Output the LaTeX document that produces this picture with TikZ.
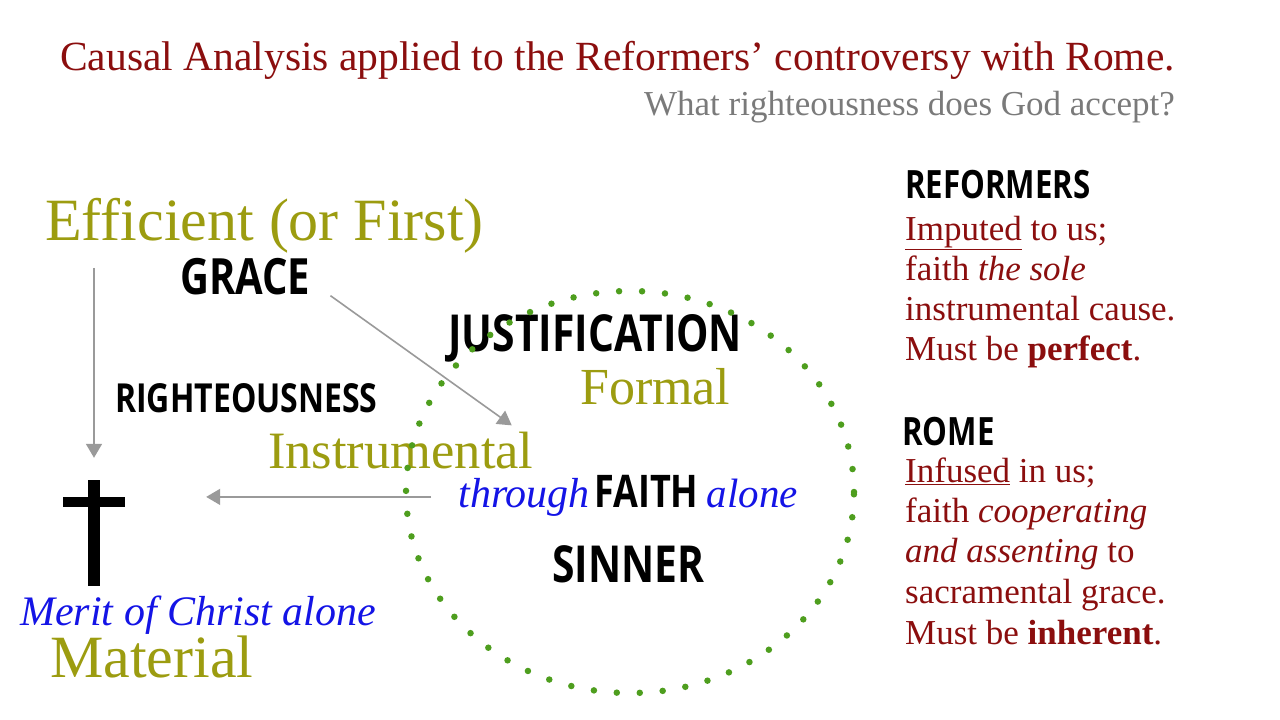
\documentclass[tikz,border=0pt]{standalone}
\usepackage{fontspec}
\setmainfont{Liberation Serif}
\newfontfamily\capsans[FakeStretch=0.8]{Open Sans}
\usetikzlibrary{arrows.meta,calc,positioning}
\definecolor{titlered}{HTML}{8B0E0E}
\definecolor{subgray}{HTML}{7A7A7A}
\definecolor{causeolive}{HTML}{9C9C10}
\definecolor{faithblue}{HTML}{1414E6}
\definecolor{arrowgray}{HTML}{9A9A9A}
\definecolor{dotgreen}{HTML}{4E9E1E}
\newcommand{\fsz}[1]{\fontsize{#1}{#1}\selectfont}

\begin{document}
\begin{tikzpicture}[x=1pt,y=-1pt,
    every node/.style={inner sep=0pt,anchor=base west},
    cause/.style={text=causeolive},
    heavy/.style={font=\capsans\bfseries\fsz{#1}},
    sola/.style={text=faithblue,font=\itshape\fsz{#1}},
    side/.style={text=titlered,font=\fsz{35}},
    garrow/.style={draw=arrowgray,line width=1.6pt,-{Triangle[width=16pt,length=14pt]}}]
  \useasboundingbox[fill=white] (0,0) rectangle (1280,720);

  % heading
  \node[anchor=base east,text=titlered,font=\fsz{41.5}] (title) at (1175,70)
    {Causal Analysis applied to the Reformers’ controversy with Rome.};
  \node[anchor=base east,text=subgray,font=\fsz{35}] (subtitle) at (1175,115)
    {What righteousness does God accept?};

  % the four causes
  \node[cause,font=\fsz{60}] (eff) at (45,240) {Efficient (or First)};
  \node[heavy=50] (grace) at (180,294) {GRACE};
  \node[heavy=40] (righteous) at (115,412) {RIGHTEOUSNESS};
  \node[heavy=51] (justif) at (448,351) {JUSTIFICATION};
  \node[cause,font=\fsz{52}] (formal) at (580,404) {Formal};
  \node[cause,font=\fsz{52.5}] (instrumental) at (268,468) {Instrumental};
  \node[heavy=45] (faith) at (594,507) {FAITH};
  \node[sola=42,anchor=base east] (through) at ($(faith.base west)+(-4,0)$) {through};
  \node[sola=41] (alone) at ($(faith.base east)+(8,0)$) {alone};
  \node[heavy=51] (sinner) at (552,582) {SINNER};
  \node[sola=42] (merit) at (20,625) {Merit of Christ alone};
  \node[cause,font=\fsz{60}] (material) at (50,677) {Material};

  % cross
  \node[minimum width=62pt,minimum height=106pt,anchor=center] (cross) at (94,533) {};
  \fill ($(cross.north)+(-6,0)$) rectangle ($(cross.south)+(6,0)$);
  \fill ($(cross.north west)+(0,17)$) rectangle ($(cross.north east)+(0,27)$);

  % right column
  \node[heavy=39] (reformers) at (905,198) {REFORMERS};
  \node[side] (ref1) at (905,240) {\underline{Imputed} to us;};
  \node[side] (ref2) at (905,280) {faith \textit{the sole}};
  \node[side] (ref3) at (905,320) {instrumental cause.};
  \node[side] (ref4) at (905,360) {Must be \textbf{perfect}.};
  \node[heavy=39] (rome) at (902,445) {ROME};
  \node[side] (rome1) at (905,482) {\underline{Infused} in us;};
  \node[side] (rome2) at (905,522) {faith \textit{cooperating}};
  \node[side] (rome3) at (905,562) {\textit{and assenting} to};
  \node[side] (rome4) at (905,603) {sacramental grace.};
  \node[side] (rome5) at (905,644) {Must be \textbf{inherent}.};

  % dotted ring
  \coordinate (ring) at (630,492);
  \draw[dotgreen,line width=6.5pt,line cap=round,dash pattern=on 0pt off 23pt]
    (ring) ellipse [x radius=224pt,y radius=201pt];

  % arrows
  \draw[garrow,shorten <=15pt,shorten >=22pt] (cross.north |- eff.south) -- (cross.north);
  \draw[garrow] ($(grace.south east)+(20,1)$) -- ($(instrumental.north east)+(-22,-6)$);
  \draw[garrow,shorten <=27pt,shorten >=81pt] (through.west) -- (through.west -| cross.east);
\end{tikzpicture}
\end{document}
